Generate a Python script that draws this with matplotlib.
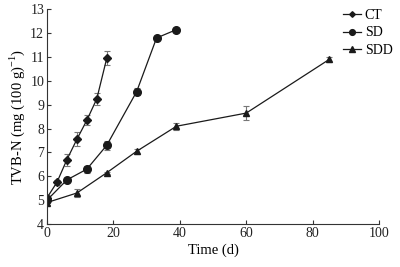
import matplotlib
matplotlib.use("Agg")
import matplotlib.pyplot as plt

plt.rcParams['font.family'] = ['Liberation Serif', 'DejaVu Serif']
plt.rcParams['mathtext.fontset'] = 'custom'
plt.rcParams['mathtext.rm'] = 'Liberation Serif'

ct_x = [0, 3, 6, 9, 12, 15, 18]
ct_y = [5.1, 5.75, 6.7, 7.55, 8.35, 9.25, 10.95]
ct_e = [0.1, 0.1, 0.25, 0.3, 0.2, 0.25, 0.3]

sd_x = [0, 6, 12, 18, 27, 33, 39]
sd_y = [5.0, 5.85, 6.3, 7.3, 9.55, 11.8, 12.15]
sd_e = [0.1, 0.1, 0.15, 0.2, 0.15, 0.1, 0.05]

sdd_x = [0, 9, 18, 27, 39, 60, 85]
sdd_y = [4.9, 5.3, 6.15, 7.05, 8.1, 8.65, 10.9]
sdd_e = [0.1, 0.15, 0.05, 0.1, 0.15, 0.3, 0.1]

xticks = [0, 20, 40, 60, 80, 100]
yticks = [4, 5, 6, 7, 8, 9, 10, 11, 12, 13]

fig = plt.figure(figsize=(4, 2.67), dpi=100)
ax = fig.add_axes([0.1175, 0.161, 0.83, 0.804])

col = '#1a1a1a'
ekw = dict(ecolor='#777777', elinewidth=0.8, capsize=2, capthick=0.8)
ax.errorbar(ct_x, ct_y, yerr=ct_e, color=col, lw=0.9, marker='D', ms=3.8, label='CT', **ekw)
ax.errorbar(sd_x, sd_y, yerr=sd_e, color=col, lw=0.9, marker='o', ms=5.5, label='SD', **ekw)
ax.errorbar(sdd_x, sdd_y, yerr=sdd_e, color=col, lw=0.9, marker='^', ms=5, label='SDD', **ekw)

ax.set_xlim(0, 100)
ax.set_ylim(4, 13)
ax.set_xticks(xticks)
ax.set_yticks(yticks)
ax.spines['top'].set_visible(False)
ax.spines['right'].set_visible(False)
for s in ['left', 'bottom']:
    ax.spines[s].set_linewidth(0.8)
    ax.spines[s].set_color('#333333')
ax.tick_params(direction='in', length=3, width=0.8, labelsize=10, pad=2, colors='#333333', labelcolor='#222222')

ax.set_xlabel('Time (d)', fontsize=10.5, labelpad=3)
ax.set_ylabel('TVB-N (mg (100 g)$^{-1}$)', fontsize=10.5, labelpad=2)

handles, labels = ax.get_legend_handles_labels()
handles = [h[0] for h in handles]
fig.legend(handles, labels, loc='upper left', bbox_to_anchor=(0.825, 1.012), frameon=False,
           fontsize=10, handlelength=1.3, handletextpad=0.3, labelspacing=0.3, markerscale=0.75)

fig.savefig('out.png', dpi=100)
